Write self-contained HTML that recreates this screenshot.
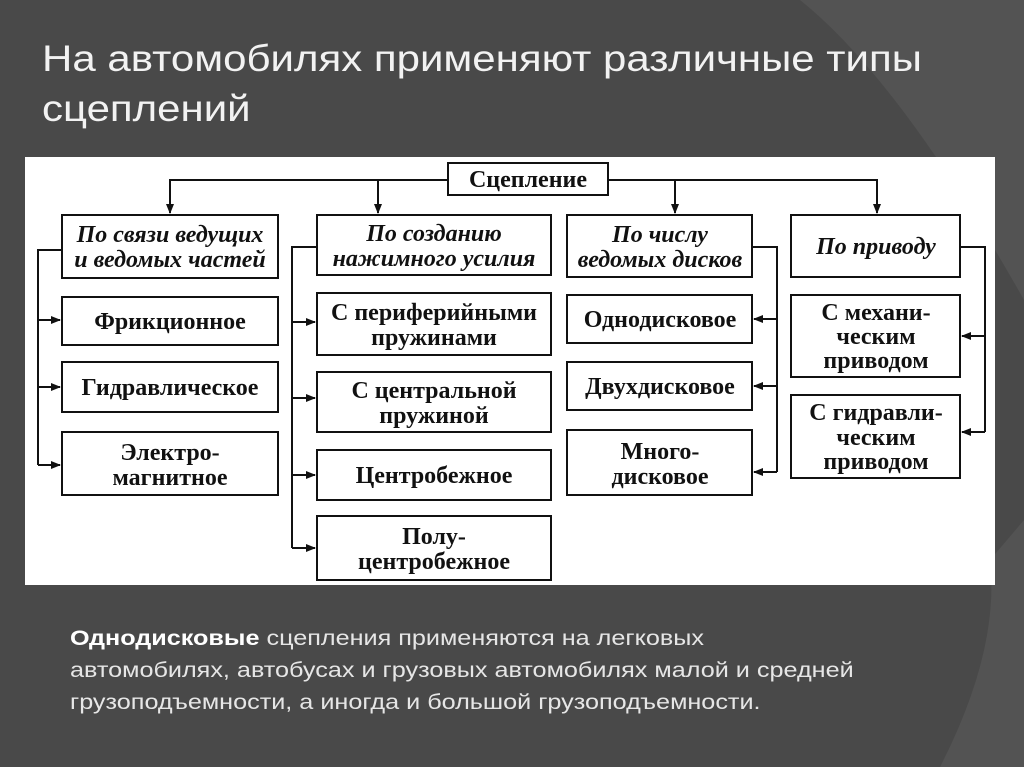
<!DOCTYPE html>
<html><head><meta charset="utf-8"><style>
html,body{margin:0;padding:0}
body{width:1024px;height:767px;background:#494949;position:relative;overflow:hidden;font-family:"Liberation Sans",sans-serif}
.t{position:absolute;left:42px;top:34px;color:#f2f2f2;font-size:37px;line-height:50px;transform:scaleX(1.135);transform-origin:0 0;white-space:nowrap}
.p{position:absolute;left:70px;top:623px;color:#e6e6e6;font-size:21px;line-height:32px;transform:scaleX(1.2);transform-origin:0 0;white-space:nowrap}
.p b{color:#fff}
svg{position:absolute;left:0;top:0}
</style></head><body>
<svg width="1024" height="767">
<path d="M800 0 Q900 80 1024 300 L1024 0Z" fill="#535353"/>
<path d="M990 560 Q1000 650 940 767 L1024 767 L1024 520Z" fill="#535353"/>
<rect x="25" y="157" width="970" height="428" fill="#fff"/>
<defs><marker id="a" markerWidth="10" markerHeight="8" refX="9" refY="4" orient="auto" markerUnits="userSpaceOnUse"><path d="M0 0L10 4L0 8Z" fill="#111"/></marker></defs>
<g stroke="#111" stroke-width="2" fill="none">
<rect x="448" y="163" width="160" height="32"/>
<rect x="62" y="215" width="216" height="63"/><rect x="317" y="215" width="234" height="60"/><rect x="567" y="215" width="185" height="62"/><rect x="791" y="215" width="169" height="62"/>
<rect x="62" y="297" width="216" height="48"/><rect x="62" y="362" width="216" height="50"/><rect x="62" y="432" width="216" height="63"/>
<rect x="317" y="293" width="234" height="62"/><rect x="317" y="372" width="234" height="60"/><rect x="317" y="450" width="234" height="50"/><rect x="317" y="516" width="234" height="64"/>
<rect x="567" y="295" width="185" height="48"/><rect x="567" y="362" width="185" height="48"/><rect x="567" y="430" width="185" height="65"/>
<rect x="791" y="295" width="169" height="82"/><rect x="791" y="395" width="169" height="83"/>
<path d="M448 180H170V213" marker-end="url(#a)"/><path d="M378 180V213" marker-end="url(#a)"/><path d="M608 180H877V213" marker-end="url(#a)"/><path d="M675 180V213" marker-end="url(#a)"/>
<path d="M62 250H38V465"/><path d="M38 320H60" marker-end="url(#a)"/><path d="M38 387H60" marker-end="url(#a)"/><path d="M38 465H60" marker-end="url(#a)"/>
<path d="M317 247H292V548"/><path d="M292 322H315" marker-end="url(#a)"/><path d="M292 398H315" marker-end="url(#a)"/><path d="M292 475H315" marker-end="url(#a)"/><path d="M292 548H315" marker-end="url(#a)"/>
<path d="M752 247H777V472"/><path d="M777 319H754" marker-end="url(#a)"/><path d="M777 386H754" marker-end="url(#a)"/><path d="M777 472H754" marker-end="url(#a)"/>
<path d="M960 247H985V432"/><path d="M985 336H962" marker-end="url(#a)"/><path d="M985 432H962" marker-end="url(#a)"/>
</g>
<g font-family="Liberation Serif,serif" font-weight="bold" font-size="24" fill="#111" text-anchor="middle">
<text x="528" y="187">Сцепление</text>
<g font-style="italic"><text x="170" y="242">По связи ведущих</text><text x="170" y="267">и ведомых частей</text>
<text x="434" y="241">По созданию</text><text x="434" y="266">нажимного усилия</text>
<text x="660" y="242">По числу</text><text x="660" y="267">ведомых дисков</text>
<text x="876" y="254">По приводу</text></g>
<text x="170" y="329">Фрикционное</text><text x="170" y="395">Гидравлическое</text>
<text x="170" y="460">Электро-</text><text x="170" y="485">магнитное</text>
<text x="434" y="320">С периферийными</text><text x="434" y="345">пружинами</text>
<text x="434" y="398">С центральной</text><text x="434" y="423">пружиной</text>
<text x="434" y="483">Центробежное</text>
<text x="434" y="544">Полу-</text><text x="434" y="569">центробежное</text>
<text x="660" y="327">Однодисковое</text><text x="660" y="394">Двухдисковое</text>
<text x="660" y="459">Много-</text><text x="660" y="484">дисковое</text>
<text x="876" y="320">С механи-</text><text x="876" y="344">ческим</text><text x="876" y="368">приводом</text>
<text x="876" y="420">С гидравли-</text><text x="876" y="445">ческим</text><text x="876" y="469">приводом</text>
</g>
</svg>
<div class="t">На автомобилях применяют различные типы<br>сцеплений</div>
<div class="p"><b>Однодисковые</b> сцепления применяются на легковых<br>автомобилях, автобусах и грузовых автомобилях малой и средней<br>грузоподъемности, а иногда и большой грузоподъемности.</div>
</body></html>
